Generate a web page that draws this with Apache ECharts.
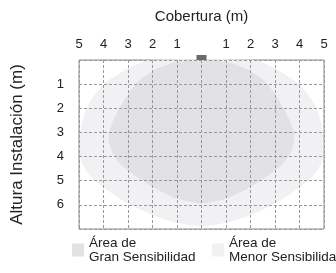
<!DOCTYPE html>
<html><head><meta charset="utf-8">
<script src="https://cdn.jsdelivr.net/npm/echarts@6/dist/echarts.min.js"></script>
<style>html,body{margin:0;padding:0;background:#fff}#c{width:336px;height:273px}</style>
</head><body><div id="c"></div>
<script>
// Axis ticks
var xTicks = [-5,-4,-3,-2,-1,0,1,2,3,4,5];
var yTicks = [0,1,2,3,4,5,6,7];
var seriesNames = ['Área de\nGran Sensibilidad', 'Área de\nMenor Sensibilidad'];
// Outline of high sensitivity area [x (m), height (m)]
var highArea = [
  [-0.4,0],[-1.2,0.12],[-1.8,0.35],[-2.3,0.65],[-2.7,1.0],[-3.05,1.5],[-3.35,2.0],[-3.6,2.5],[-3.78,3.0],[-3.78,3.4],[-3.65,3.8],[-3.4,4.2],[-2.98,4.6],[-2.4,5.0],[-1.75,5.4],[-1.0,5.75],[0,5.95],
  [1.0,5.75],[1.75,5.4],[2.4,5.0],[2.98,4.6],[3.4,4.2],[3.65,3.8],[3.78,3.4],[3.78,3.0],[3.6,2.5],[3.35,2.0],[3.05,1.5],[2.7,1.0],[2.3,0.65],[1.8,0.35],[1.2,0.12],[0.4,0]
];
// Outline of lower sensitivity area
var lowArea = [
  [-2.2,0],[-3.0,0.35],[-3.5,0.65],[-4.0,1.0],[-4.4,1.5],[-4.7,2.0],[-4.88,2.6],[-4.96,3.2],[-4.97,3.8],[-4.88,4.3],[-4.55,4.8],[-4.1,5.2],[-3.55,5.6],[-2.9,6.0],[-2.05,6.4],[-1.2,6.7],[0,6.9],
  [1.2,6.7],[2.05,6.4],[2.9,6.0],[3.55,5.6],[4.1,5.2],[4.55,4.8],[4.88,4.3],[4.97,3.8],[4.96,3.2],[4.88,2.6],[4.7,2.0],[4.4,1.5],[4.0,1.0],[3.5,0.65],[3.0,0.35],[2.2,0]
];
var sensor = [[0,0]];

function polyRender(points){
  return function(params, api){
    if(params.dataIndex !== 0) return null;
    var pts = points.map(function(p){ return api.coord(p); });
    return {type:'polygon', shape:{points:pts, smooth:0.15}, style:{fill: api.visual('color')}};
  };
}
var chart = echarts.init(document.getElementById('c'), null, {renderer:'canvas'});
var font = 'Liberation Sans, Arial, sans-serif';
chart.setOption({
  animation:false,
  textStyle:{fontFamily:font, color:'#222'},
  grid:{left:79, right:12, top:60, bottom:44, show:true, borderColor:'#8a8a8a', borderWidth:1, backgroundColor:'transparent'},
  xAxis:{type:'value', min:-5, max:5, interval:1, position:'top', z:5,
    name:'Cobertura (m)', nameLocation:'middle', nameGap:36,
    nameTextStyle:{fontSize:15, color:'#222', fontFamily:font},
    axisLine:{show:false}, axisTick:{show:false},
    axisLabel:{margin:9, fontSize:13, color:'#222', fontFamily:font,
      formatter:function(v){ return v===0 ? '' : String(Math.abs(v)); }},
    splitLine:{show:true, lineStyle:{color:'#999', type:[3,2], width:1}}
  },
  yAxis:{type:'value', min:0, max:7, interval:1, inverse:true, z:5,
    name:'Altura Instalación (m)', nameLocation:'middle', nameGap:53,
    nameTextStyle:{fontSize:17, color:'#222', fontFamily:font},
    axisLine:{show:false}, axisTick:{show:false},
    axisLabel:{margin:15, fontSize:13, color:'#222', fontFamily:font,
      formatter:function(v){ return (v===0||v===7) ? '' : String(v); }},
    splitLine:{show:true, lineStyle:{color:'#999', type:[3,2], width:1}}
  },
  legend:[
    {data:[seriesNames[0]], left:72, top:236, padding:0, icon:'rect', itemWidth:12, itemHeight:13,
      textStyle:{fontSize:13.5, color:'#222', fontFamily:font, lineHeight:14}},
    {data:[seriesNames[1]], left:212, top:236, padding:0, icon:'rect', itemWidth:12, itemHeight:13,
      textStyle:{fontSize:13.5, color:'#222', fontFamily:font, lineHeight:14}}
  ],
  series:[
    {name:seriesNames[1], type:'custom', renderItem:polyRender(lowArea), data:lowArea, itemStyle:{color:'#f1f1f3'}, z:1, silent:true},
    {name:seriesNames[0], type:'custom', renderItem:polyRender(highArea), data:highArea, itemStyle:{color:'#e2e2e4'}, z:2, silent:true},
    {type:'scatter', data:sensor, symbol:'rect', symbolSize:[10,5], symbolOffset:[0,-2.5], itemStyle:{color:'#454545'}, clip:false, z:6, silent:true}
  ]
});
</script></body></html>
